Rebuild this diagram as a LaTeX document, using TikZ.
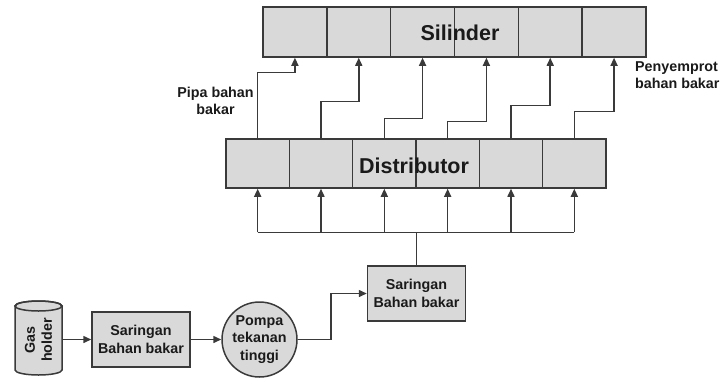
\documentclass[tikz,border=0pt]{standalone}
\usepackage{fontspec}
\setmainfont{Liberation Sans}
\usetikzlibrary{arrows.meta,calc}
\definecolor{linec}{HTML}{3A3A3A}
\definecolor{boxfill}{HTML}{D9D9D9}
\definecolor{txt}{HTML}{1A1A1A}
\tikzset{
  cell/.style={draw=linec, fill=boxfill, line width=1.5pt, inner sep=0pt},
  sbox/.style={draw=linec, fill=boxfill, line width=1.5pt, inner sep=0pt, align=center,
    minimum width=98pt, minimum height=55pt, font=\fontsize{14.3}{17.5}\selectfont\bfseries, text=txt},
  pump/.style={draw=linec, fill=boxfill, line width=1.5pt, circle, inner sep=0pt, align=center,
    minimum size=75pt, font=\fontsize{14.3}{17.5}\selectfont\bfseries, text=txt},
  bigtext/.style={font=\fontsize{21.5}{24}\selectfont\bfseries, text=txt, inner sep=0pt},
  lbl/.style={font=\fontsize{14.3}{17}\selectfont\bfseries, text=txt, inner sep=0pt, align=center},
  wire/.style={draw=linec, line width=1.5pt},
  arr/.style={wire, -{Triangle[length=8pt,width=7pt]}},
}
\begin{document}
\begin{tikzpicture}[x=1pt,y=-1pt]
\useasboundingbox (0,0) rectangle (722,378);
% Silinder
\foreach \i in {1,...,6}
  \node[cell, minimum width=63.83pt, minimum height=50pt] (c\i) at ({263+63.83*(\i-0.5)},32) {};
\node[bigtext] (sil) at (460,33) {Silinder};
% Distributor
\foreach \i in {1,...,6}
  \node[cell, minimum width=63.33pt, minimum height=49pt] (d\i) at ({226+63.33*(\i-0.5)},163.5) {};
\node[bigtext] (dist) at (414,166) {Distributor};
% pipes
\draw[arr] (d1.north) -- ++(0,-66) -| (c1.south);
\draw[arr] (d2.north) -- ++(0,-37) -| (c2.south);
\draw[arr] (d3.north) -- ++(0,-20) -| (c3.south);
\draw[arr] (d4.north) -- ++(0,-17) -| (c4.south);
\draw[arr] (d5.north) -- ++(0,-33) -| (c5.south);
\draw[arr] (d6.north) -- ++(0,-27) -| (c6.south);
% labels
\node[lbl] (pipa) at (215.5,100.5) {Pipa bahan\\bakar};
\node[lbl, align=left, anchor=west] (peny) at (635,75) {Penyemprot\\bahan bakar};
% lower part
\node[sbox] (s2) at (416.5,293.5) {Saringan\\Bahan bakar};
\coordinate (bus) at ($(s2.north)+(0,-33)$);
\draw[wire] (s2.north) -- (bus);
\draw[wire] (d1.south |- bus) -- (d6.south |- bus);
\foreach \i in {1,...,6}
  \draw[arr] (d\i.south |- bus) -- (d\i.south);
% Gas holder
\draw[draw=linec, fill=boxfill, line width=1.5pt]
  (15,306) -- (15,370) arc[start angle=180, end angle=0, x radius=23.5, y radius=5]
  -- (62,306) arc[start angle=0, end angle=-180, x radius=23.5, y radius=5] -- cycle;
\draw[draw=linec, line width=1.5pt] (38.5,306) ellipse[x radius=23.5, y radius=5];
\node[lbl, rotate=90] (gh) at (38.5,340) {Gas\\holder};
\coordinate (ghr) at (62,339.5);
\node[sbox] (s1) at (141,339.5) {Saringan\\Bahan bakar};
\node[pump] (p) at (259.5,339.5) {Pompa\\tekanan\\tinggi};
\draw[arr] (ghr) -- (s1.west);
\draw[arr] (s1.east) -- (p.west);
\draw[arr] (p.east) -- ++(33,0) |- (s2.west);
\end{tikzpicture}
\end{document}
